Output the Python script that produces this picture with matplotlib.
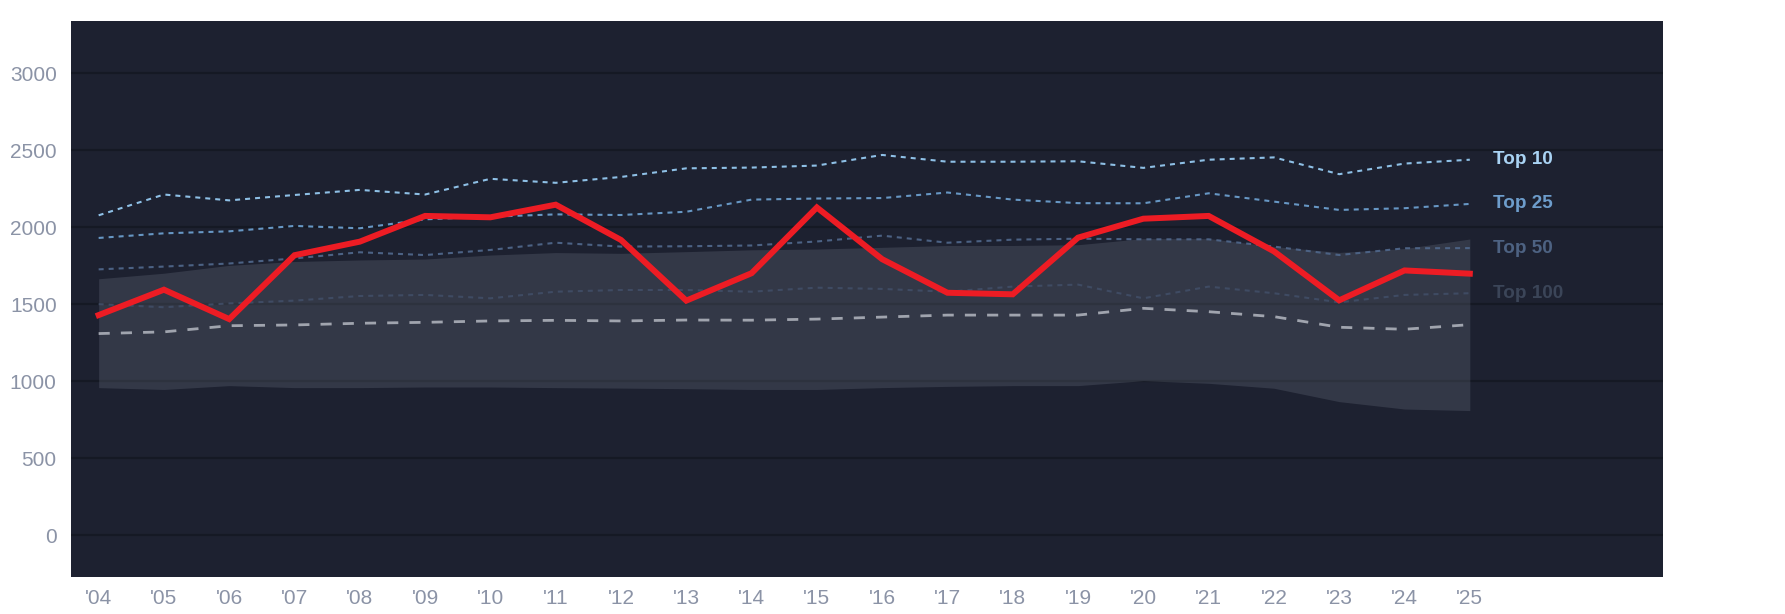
import matplotlib
matplotlib.use("Agg")
import matplotlib.pyplot as plt

plt.rcParams['font.family'] = ['Liberation Sans', 'DejaVu Sans']
plt.rcParams['lines.scale_dashes'] = False

years = list(range(2004, 2026))
year_labels = ["'%02d" % (y % 100) for y in years]

team = [1429, 1594, 1403, 1818, 1906, 2073, 2064, 2146, 1917, 1523, 1701, 2128,
        1792, 1574, 1564, 1932, 2055, 2073, 1843, 1525, 1719, 1698]
top10 = [2077, 2212, 2174, 2209, 2242, 2212, 2314, 2288, 2326, 2382, 2387, 2400,
         2469, 2425, 2425, 2428, 2385, 2438, 2453, 2344, 2413, 2438]
top25 = [1930, 1960, 1973, 2008, 1993, 2051, 2068, 2083, 2079, 2100, 2179, 2186,
         2189, 2225, 2179, 2156, 2155, 2220, 2166, 2112, 2123, 2151]
top50 = [1726, 1744, 1764, 1797, 1837, 1819, 1852, 1899, 1874, 1876, 1881, 1907,
         1945, 1899, 1919, 1925, 1921, 1921, 1874, 1819, 1863, 1864]
top100 = [1500, 1480, 1505, 1523, 1553, 1560, 1538, 1581, 1592, 1592, 1581, 1607,
          1599, 1581, 1614, 1627, 1538, 1614, 1571, 1512, 1560, 1571]
median = [1309, 1320, 1360, 1365, 1376, 1382, 1391, 1395, 1391, 1397, 1396, 1403,
          1416, 1429, 1429, 1429, 1473, 1451, 1419, 1350, 1337, 1367]
band_hi = [1665, 1701, 1752, 1777, 1787, 1793, 1819, 1835, 1830, 1841, 1853, 1858,
           1869, 1881, 1881, 1886, 1926, 1926, 1874, 1836, 1861, 1923]
band_lo = [958, 946, 971, 958, 958, 962, 962, 958, 955, 951, 946, 946,
           958, 966, 971, 971, 1003, 986, 954, 867, 819, 809]

tier_names = ['Top 10', 'Top 25', 'Top 50', 'Top 100']
tier_values = [top10, top25, top50, top100]
tier_line_colors = ['#8ec0e6', '#6797c4', '#4c6284', '#3f4b63']
tier_text_colors = ['#a9d3f4', '#6d9dcc', '#4d6282', '#3b4558']

yticks = [0, 500, 1000, 1500, 2000, 2500, 3000]

BG = '#1d2130'
fig = plt.figure(figsize=(17.85, 6.14), dpi=100)
fig.patch.set_facecolor('white')
ax = fig.add_axes([0.0399, 0.0607, 0.8918, 0.9049])
ax.set_facecolor(BG)

for yt in yticks:
    ax.axhline(yt, color='#151924', lw=1.6, zorder=1)

ax.fill_between(years, band_lo, band_hi, color='#767d8d', alpha=0.25,
                lw=0, zorder=2)

ax.plot(years, median, color='#a0a4ae', lw=2.0, dashes=(8.0, 8.0), zorder=3)
for vals, col in zip(tier_values[::-1], tier_line_colors[::-1]):
    ax.plot(years, vals, color=col, lw=1.5, dashes=(3.6, 3.6), zorder=3)

ax.plot(years, team, color='#ed1c24', lw=4.3, zorder=5,
        solid_joinstyle='miter')

for name, vals, col in zip(tier_names, tier_values, tier_text_colors):
    ax.annotate(name, xy=(years[-1], vals[-1]), xytext=(17, 0),
                textcoords='offset points', ha='left', va='center',
                color=col, fontsize=13.6, fontweight='bold', zorder=6)

ax.set_xlim(2003.58, 2027.96)
ax.set_ylim(-270, 3338)
ax.set_xticks(years)
ax.set_xticklabels(year_labels)
ax.set_yticks(yticks)
ax.set_yticklabels([str(v) for v in yticks])
ax.tick_params(axis='both', length=0, colors='#8b93a6', labelsize=15)
ax.tick_params(axis='x', pad=9)
ax.tick_params(axis='y', pad=10.5)
for sp in ax.spines.values():
    sp.set_visible(False)

fig.savefig('out.png', dpi=100, facecolor='white')
